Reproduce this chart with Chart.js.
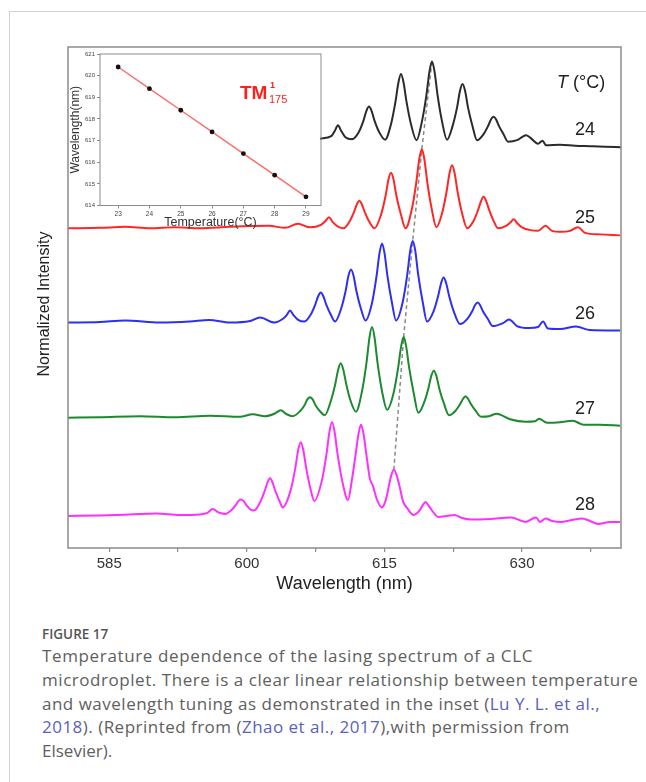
<!DOCTYPE html>
<html>
<head>
<meta charset="utf-8">
<script src="https://cdn.jsdelivr.net/npm/chart.js@4.4.1/dist/chart.umd.min.js"></script>
<style>
  body { margin: 0; background: #fff; width: 646px; height: 782px; overflow: hidden; position: relative; }
  .card { position: absolute; left: 9px; top: 11px; width: 660px; height: 800px; border-left: 1px solid #d2d2d2; border-top: 1px solid #d2d2d2; }
  #main { position: absolute; left: 0; top: 0; }
  #inset { position: absolute; left: 68px; top: 47px; }
  .fig { position: absolute; left: 42px; top: 625px; font: 600 13.5px "Open Sans", sans-serif; line-height: 18px; color: #555; }
  .txt { position: absolute; left: 42px; top: 644px; font: 17px "Open Sans", sans-serif; line-height: 23.8px; color: #606060; white-space: nowrap; }
  .txt .ln { display: inline-block; }
  .txt a { color: #5a5fc0; text-decoration: none; }
</style>
</head>
<body>
<div class="card"></div>
<canvas id="main" width="646" height="600"></canvas>
<canvas id="inset" width="262" height="185"></canvas>
<div class="fig">FIGURE 17</div>
<div class="txt"><span class="ln">Temperature dependence of the lasing spectrum of a CLC</span><br><span class="ln">microdroplet. There is a clear linear relationship between temperature</span><br><span class="ln">and wavelength tuning as demonstrated in the inset (<a>Lu Y. L. et al.,</a></span><br><span class="ln"><a>2018</a>). (Reprinted from (<a>Zhao et al., 2017</a>),with permission from</span><br><span class="ln">Elsevier).</span></div>
<script>
// Lasing spectra, [wavelength nm, stacked normalized intensity]
const spec24 = [[607.98,8.17],[609.20,8.22],[609.60,8.33],[609.94,8.44],[610.28,8.33],[610.75,8.20],[611.47,8.16],
    [612.23,8.31],[612.72,8.53],[613.05,8.73],[613.32,8.81],[613.59,8.73],[613.92,8.53],[614.41,8.31],[615.07,8.15],
    [615.72,8.46],[616.21,8.91],[616.54,9.30],[616.81,9.46],[617.08,9.30],[617.41,8.91],[617.90,8.46],[618.50,8.14],
    [619.10,8.52],[619.59,9.05],[619.92,9.52],[620.19,9.71],[620.46,9.52],[620.79,9.05],[621.28,8.52],[621.83,8.15],
    [622.43,8.42],[622.92,8.79],[623.25,9.13],[623.52,9.26],[623.79,9.13],[624.12,8.79],[624.61,8.42],[625.10,8.14],
    [625.81,8.26],[626.30,8.42],[626.63,8.56],[626.90,8.61],[627.17,8.56],[627.50,8.42],[627.99,8.26],[628.48,8.11],
    [629.46,8.14],[630.00,8.20],[630.45,8.24],[630.90,8.19],[631.75,8.07],[632.24,8.13],[632.63,8.04],[634.15,8.05],
    [635.79,8.03],[637.42,8.02],[639.06,8.01],[640.81,8.00]];
const spec25 = [[580.50,6.38],[583.99,6.39],[586.72,6.41],[589.44,6.38],[592.17,6.40],[594.89,6.38],[598.17,6.41],
    [602.42,6.43],[604.16,6.39],[605.58,6.47],[606.89,6.40],[608.09,6.45],[608.55,6.52],[608.96,6.60],[609.35,6.51],
    [609.90,6.42],[610.55,6.38],
    [611.18,6.51],[611.67,6.70],[612.00,6.86],[612.27,6.93],[612.54,6.86],[612.87,6.70],[613.36,6.51],[613.92,6.38],
    [614.63,6.65],[615.12,7.02],[615.45,7.36],[615.72,7.49],[615.99,7.36],[616.32,7.02],[616.81,6.65],[617.30,6.38],
    [617.99,6.76],[618.48,7.30],[618.81,7.77],[619.08,7.96],[619.35,7.77],[619.68,7.30],[620.17,6.76],[620.67,6.40],
    [621.29,6.68],[621.78,7.11],[622.11,7.49],[622.38,7.64],[622.65,7.49],[622.98,7.11],[623.47,6.68],[624.04,6.38],
    [624.73,6.53],[625.22,6.75],[625.55,6.93],[625.82,7.01],[626.09,6.93],[626.42,6.75],[626.91,6.53],[627.39,6.38],
    [628.27,6.43],[628.70,6.49],[629.11,6.56],[629.50,6.48],[630.00,6.40],[630.77,6.35],[631.75,6.33],[632.57,6.43],
    [633.28,6.33],[634.37,6.31],[635.24,6.33],[636.11,6.40],[636.88,6.29],[638.51,6.26],[640.70,6.24]];
const spec26 = [[580.50,4.50],[583.99,4.51],[586.72,4.54],[590.53,4.50],[593.80,4.52],[595.88,4.55],[598.17,4.50],
    [600.35,4.53],[601.44,4.60],[603.02,4.50],[603.90,4.57],[604.35,4.65],[604.71,4.74],[605.07,4.65],[605.55,4.56],
    [606.28,4.52],
    [606.97,4.66],[607.46,4.86],[607.79,5.03],[608.06,5.10],[608.33,5.03],[608.66,4.86],[609.15,4.66],[609.62,4.52],
    [610.27,4.77],[610.76,5.12],[611.09,5.44],[611.36,5.56],[611.63,5.44],[611.96,5.12],[612.45,4.77],[612.94,4.54],
    [613.65,4.89],[614.14,5.42],[614.47,5.89],[614.74,6.08],[615.01,5.89],[615.34,5.42],[615.83,4.89],[616.27,4.54],
    [617.00,4.91],[617.49,5.45],[617.82,5.94],[618.09,6.13],[618.36,5.94],[618.69,5.45],[619.18,4.91],[619.65,4.52],
    [620.37,4.73],[620.86,5.03],[621.19,5.29],[621.46,5.40],[621.73,5.29],[622.06,5.03],[622.55,4.73],[623.25,4.47],
    [624.07,4.58],[624.56,4.72],[624.89,4.85],[625.16,4.90],[625.43,4.85],[625.76,4.72],[626.25,4.58],[626.81,4.43],
    [627.94,4.49],[628.59,4.56],[629.46,4.43],[630.77,4.39],[631.75,4.41],[632.30,4.52],[632.84,4.38],[634.15,4.37],
    [635.90,4.42],[637.42,4.35],[640.70,4.34]];
const spec27 = [[580.50,2.60],[583.99,2.61],[588.35,2.63],[592.17,2.61],[595.99,2.64],[599.26,2.62],[600.64,2.67],
    [601.98,2.63],[603.00,2.68],[603.70,2.75],[604.35,2.67],[605.00,2.63],
    [605.80,2.73],[606.29,2.85],[606.62,2.97],[606.89,3.01],[607.16,2.97],[607.49,2.85],[607.98,2.73],[608.50,2.65],
    [609.15,2.93],[609.64,3.27],[609.97,3.57],[610.24,3.69],[610.51,3.57],[610.84,3.27],[611.33,2.93],[611.90,2.72],
    [612.56,3.13],[613.05,3.70],[613.38,4.21],[613.65,4.41],[613.92,4.21],[614.25,3.70],[614.74,3.13],[615.30,2.76],
    [616.01,3.10],[616.50,3.60],[616.83,4.03],[617.10,4.21],[617.37,4.03],[617.70,3.60],[618.19,3.10],[618.70,2.70],
    [619.30,2.89],[619.79,3.18],[620.12,3.44],[620.39,3.54],[620.66,3.44],[620.99,3.18],[621.48,2.89],[622.05,2.65],
    [622.76,2.74],[623.25,2.87],[623.58,2.98],[623.85,3.03],[624.12,2.98],[624.45,2.87],[624.94,2.74],[625.54,2.62],
    [626.41,2.63],[627.22,2.68],[628.70,2.57],[630.39,2.52],[631.43,2.53],[631.86,2.58],[632.74,2.50],[634.15,2.51],
    [635.54,2.54],[636.73,2.46],[638.51,2.46],[640.70,2.44]];
const spec28 = [[580.50,0.64],[583.99,0.65],[587.26,0.67],[590.10,0.69],[592.71,0.66],[594.89,0.67],[595.70,0.70],
    [596.28,0.78],[596.90,0.71],[597.68,0.68],
    [598.28,0.75],[598.77,0.85],[599.10,0.94],[599.37,0.97],[599.64,0.94],[599.97,0.85],[600.46,0.76],[600.80,0.75],
    [601.44,0.91],[601.93,1.13],[602.26,1.31],[602.53,1.39],[602.80,1.31],[603.13,1.13],[603.62,0.91],[603.90,0.81],
    [604.79,1.16],[605.28,1.59],[605.61,1.96],[605.88,2.11],[606.15,1.96],[606.48,1.59],[606.97,1.16],[607.35,0.94],
    [608.20,1.36],[608.69,1.88],[609.02,2.33],[609.29,2.51],[609.56,2.33],[609.89,1.88],[610.38,1.36],[611.03,0.96],
    [611.45,1.35],[611.85,1.85],[612.18,2.28],[612.45,2.46],[612.72,2.28],[613.05,1.85],[613.40,1.40],[613.75,1.24],
    [614.20,0.96],[614.74,0.81],
    [615.20,0.99],[615.50,1.25],[615.78,1.47],[616.03,1.56],[616.30,1.47],[616.63,1.25],[617.05,0.92],[617.47,0.80],
    [618.18,0.66],[618.89,0.76],[619.20,0.86],[619.49,0.92],[619.80,0.85],[620.30,0.72],[620.85,0.62],[621.83,0.64],
    [622.65,0.66],[623.47,0.60],[624.45,0.57],[626.52,0.58],[628.81,0.61],[630.39,0.52],[631.54,0.61],[631.97,0.52],
    [632.57,0.59],[633.28,0.54],[634.37,0.52],[635.46,0.56],[636.55,0.59],[637.42,0.54],[638.30,0.48],[639.61,0.52],
    [640.70,0.52]];

// the tracked lasing mode, one peak per temperature
const modeWl = [620.19, 619.08, 618.09, 617.10, 616.03];
const modeInt = [9.71, 7.96, 6.13, 4.21, 1.56];

const temps = ['24', '25', '26', '27', '28'];
const traceColors = ['#2b2b2b', '#ff2626', '#2e2ef5', '#1c8a2e', '#ff30ff'];
const xMajor = [585, 600, 615, 630];
const xMinor = [592.5, 607.5, 622.5, 637.5];

// inset: mode wavelength vs temperature
const insetT = [23, 24, 25, 26, 27, 28, 29];
const insetWl = [620.4, 619.4, 618.4, 617.4, 616.4, 615.4, 614.4];
const insetYTicks = [614, 615, 616, 617, 618, 619, 620, 621];

const FONT = '"Liberation Sans", Arial, sans-serif';
const spectra = [spec24, spec25, spec26, spec27, spec28];

const datasets = spectra.map((s, i) => ({
    data: s.map(p => ({ x: p[0], y: p[1] })),
    borderColor: traceColors[i],
    borderWidth: 2,
    pointRadius: 0,
    cubicInterpolationMode: 'monotone',
    order: 1
}));
datasets.push({
    data: modeWl.map((w, i) => ({ x: w, y: modeInt[i] })),
    borderColor: '#8a8a8a',
    borderWidth: 1.5,
    borderDash: [4, 3],
    pointRadius: 0,
    order: 2
});

const frame = {
    id: 'frame',
    afterDatasetsDraw(chart) {
        const { ctx, chartArea: a } = chart;
        ctx.save();
        ctx.strokeStyle = '#8c8c8c';
        ctx.lineWidth = 1.5;
        ctx.strokeRect(a.left, a.top, a.width, a.height);
        ctx.restore();
    }
};

// axis title on the left, temperature labels just above the right end of each trace
const labels = {
    id: 'labels',
    afterDraw(chart) {
        const { ctx, scales: { y } } = chart;
        ctx.save();
        ctx.fillStyle = '#222';
        ctx.textBaseline = 'middle';
        ctx.textAlign = 'center';
        ctx.translate(45, 304);
        ctx.rotate(-Math.PI / 2);
        ctx.font = '16px ' + FONT;
        ctx.fillText('Normalized Intensity', 0, 0);
        ctx.setTransform(1, 0, 0, 1, 0, 0);

        ctx.font = 'italic 18px ' + FONT;
        ctx.textAlign = 'left';
        ctx.fillText('T', 557, 83);
        ctx.font = '18px ' + FONT;
        ctx.fillText('(°C)', 573, 83);
        ctx.textAlign = 'center';
        spectra.forEach((s, i) => {
            const last = s[s.length - 1][1];
            ctx.fillText(temps[i], 585, y.getPixelForValue(last) - 17);
        });
        ctx.restore();
    }
};

new Chart(document.getElementById('main'), {
    type: 'line',
    data: { datasets },
    options: {
        responsive: false,
        animation: false,
        layout: { padding: { left: 30, top: 47, right: 25, bottom: 5 } },
        plugins: { legend: { display: false }, tooltip: { enabled: false } },
        scales: {
            x: {
                type: 'linear',
                min: 580.5,
                max: 640.8,
                afterBuildTicks: s => { s.ticks = xMajor.concat(xMinor).sort((a, b) => a - b).map(v => ({ value: v })); },
                afterFit: s => { s.height = 47; },
                ticks: {
                    autoSkip: false,
                    maxRotation: 0,
                    padding: 3,
                    color: '#333',
                    font: { family: FONT, size: 15 },
                    callback: v => xMajor.includes(v) ? String(v) : ''
                },
                grid: { drawOnChartArea: false, tickLength: 4, color: '#8c8c8c', lineWidth: 1.2 },
                border: { display: false },
                title: { display: true, text: 'Wavelength (nm)', color: '#222', font: { family: FONT, size: 18 }, padding: { top: 0, bottom: 0 } }
            },
            y: {
                min: 0,
                max: 10,
                afterFit: s => { s.width = 38; },
                ticks: { display: false },
                grid: { display: false },
                border: { display: false }
            }
        }
    },
    plugins: [frame, labels]
});

// inset box and the mode label
const insetDeco = {
    id: 'insetDeco',
    afterDraw(chart) {
        const { ctx, chartArea: a } = chart;
        ctx.save();
        ctx.strokeStyle = '#8c8c8c';
        ctx.lineWidth = 1;
        ctx.strokeRect(a.left, a.top, a.width, a.height);
        ctx.fillStyle = '#ff1f1f';
        ctx.textBaseline = 'alphabetic';
        ctx.font = 'bold 19px ' + FONT;
        ctx.fillText('TM', 172, 52);
        ctx.font = 'bold 9px ' + FONT;
        ctx.fillText('1', 202, 41);
        ctx.font = '11px ' + FONT;
        ctx.fillText('175', 201, 56);
        ctx.restore();
    }
};

new Chart(document.getElementById('inset'), {
    type: 'line',
    data: {
        datasets: [{
            data: insetT.map((t, i) => ({ x: t, y: insetWl[i] })),
            borderColor: '#ff6a6a',
            borderWidth: 1.4,
            pointRadius: 2.4,
            pointBackgroundColor: '#111',
            pointBorderColor: '#111',
            pointBorderWidth: 0
        }]
    },
    options: {
        responsive: false,
        animation: false,
        layout: { padding: { left: 0, top: 7, right: 9, bottom: 0 } },
        plugins: { legend: { display: false }, tooltip: { enabled: false } },
        scales: {
            x: {
                type: 'linear',
                min: 22.42,
                max: 29.48,
                afterBuildTicks: s => { s.ticks = insetT.map(v => ({ value: v })); },
                afterFit: s => { s.height = 26.5; },
                ticks: { color: '#444', padding: 2, font: { family: FONT, size: 6.5 } },
                grid: { drawOnChartArea: false, tickLength: 3, color: '#8c8c8c' },
                border: { display: false },
                title: { display: true, text: 'Temperature(°C)', color: '#333', font: { family: FONT, size: 12.5 }, padding: { top: 0, bottom: 2 } }
            },
            y: {
                min: 614,
                max: 621,
                afterBuildTicks: s => { s.ticks = insetYTicks.map(v => ({ value: v })); },
                afterFit: s => { s.width = 32; },
                ticks: { color: '#444', padding: 2, font: { family: FONT, size: 6 } },
                grid: { drawOnChartArea: false, tickLength: 3, color: '#8c8c8c' },
                border: { display: false },
                title: { display: true, text: 'Wavelength(nm)', color: '#333', font: { family: FONT, size: 12 }, padding: { top: 0, bottom: 0 } }
            }
        }
    },
    plugins: [insetDeco]
});

// set each caption line to its column width
const capWidths = [491, 596, 558, 528];
document.querySelectorAll('.txt .ln').forEach((el, i) => {
    if (!capWidths[i]) return;
    const gap = capWidths[i] - el.getBoundingClientRect().width;
    el.style.letterSpacing = (gap / el.textContent.length).toFixed(2) + 'px';
});
</script>
</body>
</html>
